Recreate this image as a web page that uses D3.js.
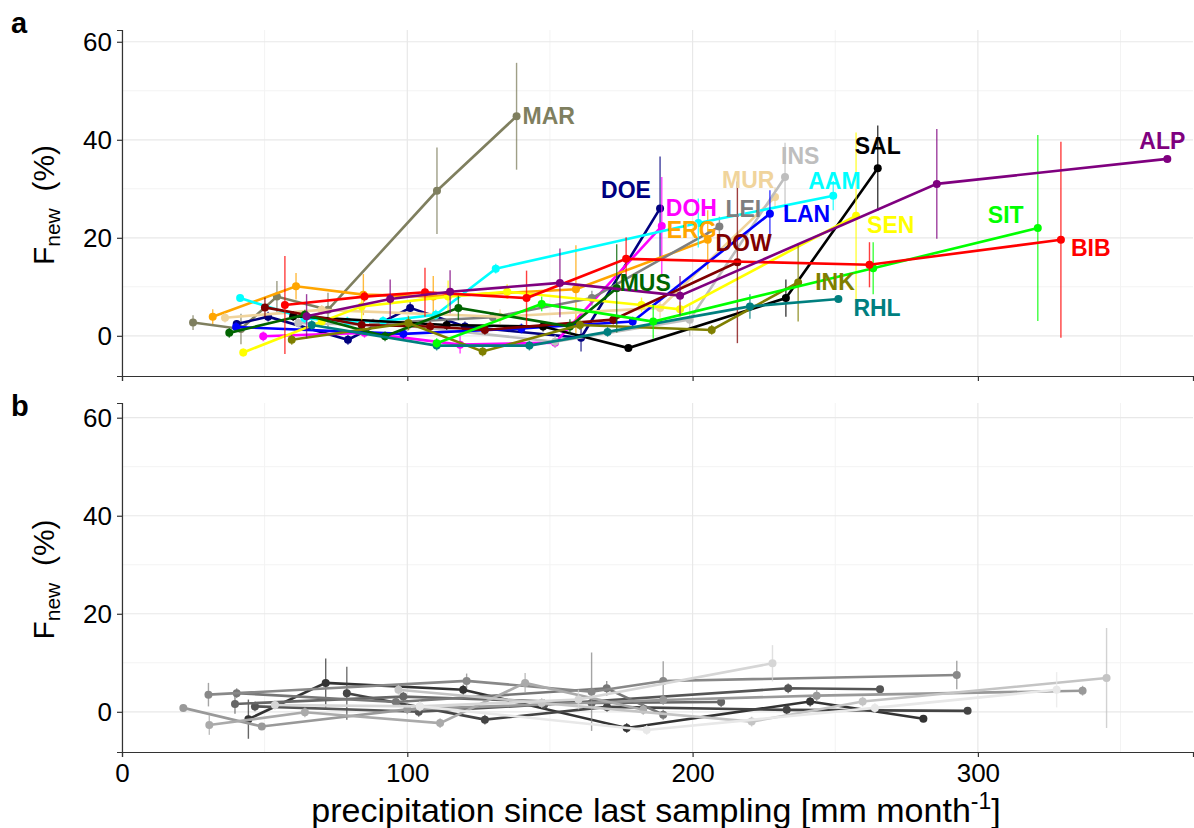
<!DOCTYPE html>
<html>
<head>
<meta charset="utf-8">
<script src="https://cdn.jsdelivr.net/npm/d3@7"></script>
<style>
  body { margin: 0; background: #fff; }
  svg text { font-family: "Liberation Sans", Arial, sans-serif; }
</style>
</head>
<body>
<div id="chart"></div>
<script>
// ---- data: each row = [precipitation (mm/month), Fnew (%), sd] ----
// panel a (coloured sites)
const MAR = [[24.9, 2.7, 1.5], [41.7, 1.4, 3.1], [54.3, 8.0, 3.2], [72.2, 5.3, 3.5], [110.4, 29.6, 8.8], [138.3, 44.8, 10.9]];
const DOE = [[40.2, 2.4, 0.8], [51.2, 3.9, 1.0], [79.2, -0.8, 1.0], [101.0, 5.7, 1.2], [120.2, 1.9, 1.0], [160.9, -0.4, 2.8], [188.6, 26.0, 10.6]];
const DOH = [[49.5, -0.1, 1.0], [85.0, 0.6, 1.0], [118.5, -1.8, 1.8], [151.8, -1.4, 1.0], [189.2, 22.4, 10.0]];
const ERG = [[31.8, 3.9, 1.5], [61.0, 10.1, 2.7], [84.6, 8.4, 4.2], [109.1, 8.0, 4.2], [159.1, 9.5, 9.0], [205.3, 19.6, 6.0]];
const LEI = [[88.0, 2.5, 1.0], [130.0, 3.8, 1.0], [164.7, 7.7, 1.5], [209.4, 22.3, 2.0]];
const MUR = [[36.1, 3.7, 1.0], [70.0, 5.3, 1.0], [132.5, 3.9, 1.5], [188.6, 5.7, 2.0], [228.9, 28.3, 2.0]];
const INS = [[61.8, 2.6, 1.0], [100.0, 2.0, 1.0], [151.8, -1.2, 1.3], [199.0, 3.3, 3.4], [232.4, 32.4, 7.0]];
const AAM = [[41.4, 7.7, 0.8], [64.0, 3.6, 1.0], [79.0, 2.9, 1.0], [91.5, 3.0, 1.0], [110.0, 4.3, 1.0], [131.0, 13.7, 1.0], [202.0, 23.0, 5.0], [249.3, 28.6, 3.0]];
const LAN = [[40.0, 1.8, 1.0], [98.6, 0.4, 1.0], [140.0, 1.5, 1.0], [179.0, 2.9, 1.0], [227.1, 24.9, 4.8]];
const SAL = [[60.0, 4.0, 1.0], [113.8, 2.2, 1.0], [147.6, 1.9, 1.0], [177.5, -2.5, 0.5], [232.7, 7.7, 3.8], [264.9, 34.2, 8.7]];
const SEN = [[42.5, -3.4, 0.8], [70.0, 2.9, 1.0], [84.0, 6.0, 2.7], [114.3, 8.0, 3.3], [135.0, 9.0, 1.5], [182.1, 6.3, 1.5], [195.6, 5.4, 1.5], [257.3, 24.5, 17.0]];
const DOW = [[50.1, 5.8, 2.0], [84.0, 2.2, 1.0], [108.0, 1.9, 1.0], [127.2, 1.2, 1.0], [172.2, 3.3, 1.0], [215.7, 15.0, 16.5]];
const MUS = [[37.6, 0.6, 1.0], [64.1, 4.3, 1.0], [92.2, -0.1, 1.0], [117.9, 5.7, 2.5], [157.0, 1.9, 1.5], [173.4, 9.7, 9.0]];
const INK = [[59.5, -0.8, 1.0], [100.4, 2.6, 1.5], [126.4, -3.2, 1.0], [160.5, 2.2, 1.0], [206.7, 1.2, 1.0], [237.0, 10.9, 8.0]];
const RHL = [[66.5, 2.2, 1.0], [110.3, -2.0, 1.0], [142.8, -2.0, 1.0], [170.2, 0.8, 1.0], [220.1, 6.0, 2.5], [251.1, 7.5, 0.5]];
const SIT = [[110.3, -1.5, 1.0], [147.1, 6.5, 1.5], [186.2, 2.9, 3.5], [263.3, 13.8, 5.3], [321.0, 22.0, 19.0]];
const BIB = [[57.1, 6.3, 10.0], [85.0, 8.0, 1.0], [106.2, 8.9, 5.0], [141.8, 7.7, 5.6], [176.7, 15.7, 4.4], [262.0, 14.5, 4.6], [329.1, 19.6, 20.0]];
const ALP = [[64.7, 4.0, 4.5], [94.0, 7.5, 4.0], [115.0, 9.0, 4.4], [153.5, 10.8, 7.0], [195.6, 8.2, 4.0], [285.6, 31.0, 11.2], [366.4, 36.1, 0.5]];

// panel b (grey series)
const b01 = [[44.3, -1.5, 4.0], [71.4, 5.9, 5.0], [119.6, 4.5, 1.0], [176.9, -3.3, 1.0], [241.2, 2.1, 1.0], [280.9, -1.4, 0.5]];
const b02 = [[78.8, 3.8, 5.4], [127.2, -1.6, 1.0], [170.0, 1.0, 1.0], [233.0, 0.4, 1.0], [296.4, 0.2, 0.5]];
const b03 = [[46.6, 1.1, 1.0], [104.0, 0.0, 1.0], [148.0, 1.5, 1.0], [233.5, 4.8, 1.0], [265.7, 4.6, 0.5]];
const b04 = [[39.6, 1.6, 2.0], [98.6, 3.1, 1.0], [164.6, 1.8, 1.0], [210.0, 2.0, 1.0]];
const b05 = [[40.2, 3.8, 1.0], [96.0, 2.0, 1.0], [169.9, 4.8, 1.5], [189.7, -0.6, 1.0]];
const b06 = [[30.3, 3.5, 2.4], [120.8, 6.3, 1.5], [164.6, 4.1, 8.0], [189.7, 6.3, 4.0], [292.6, 7.5, 2.9]];
const b07 = [[21.5, 0.8, 0.3], [49.0, -3.0, 0.5], [100.0, 0.5, 1.0], [189.7, 2.4, 1.0], [243.5, 3.3, 1.2], [336.7, 4.3, 1.0]];
const b08 = [[30.6, -2.7, 2.0], [64.1, -0.1, 1.0], [111.5, -2.3, 1.0], [141.3, 5.9, 2.0], [182.7, 0.4, 1.0]];
const b09 = [[96.9, 4.5, 1.0], [147.1, 1.8, 1.0], [220.7, -2.0, 1.0], [259.6, 2.1, 1.0], [345.1, 6.9, 10.2]];
const b10 = [[53.6, 1.4, 1.0], [104.4, 1.1, 1.0], [160.0, 2.5, 2.0], [228.0, 9.9, 3.7]];
const b11 = [[104.4, 1.1, 1.0], [183.9, -3.7, 1.0], [263.9, 0.8, 1.0], [327.6, 4.5, 3.6]];

const yTicks = [0, 20, 40, 60];
const xTicks = [0, 100, 200, 300];

// ---- styles ----
const siteColor = {
  MAR: "#7f7f5f", DOE: "#00007f", DOH: "#ff00ff", ERG: "#ffa500", LEI: "#7f7f7f",
  MUR: "#f0d49c", INS: "#bebebe", AAM: "#00ffff", LAN: "#0000ff", SAL: "#000000",
  SEN: "#ffff00", DOW: "#7f0000", MUS: "#006400", INK: "#7f7f00", RHL: "#007f7f",
  SIT: "#00ff00", BIB: "#ff0000", ALP: "#7f007f"
};
// label nudges (px) from the last point of each site
const labelNudge = {
  MAR: [6, 0], DOE: [-59, -18], DOH: [4, -18], ERG: [-41, -10], LEI: [6, -18],
  MUR: [-53, -17], INS: [-4, -21], AAM: [-25, -15], LAN: [13, 0], SAL: [-23, -22],
  SEN: [11, 9], DOW: [-22, -19], MUS: [3, -5], INK: [17, 0], RHL: [15, 9],
  SIT: [-50, -13], BIB: [10, 8], ALP: [-28, -18]
};
const greys = ["#333333", "#444444", "#555555", "#666666", "#777777", "#888888",
               "#999999", "#aaaaaa", "#c4c4c4", "#d6d6d6", "#e8e8e8"];

const sitesA = { MAR, DOE, DOH, ERG, LEI, MUR, INS, AAM, LAN, SAL, SEN, DOW, MUS, INK, RHL, SIT, BIB, ALP };
const seriesB = [b01, b02, b03, b04, b05, b06, b07, b08, b09, b10, b11];

const width = 1194, height = 828;
const svg = d3.select("#chart").append("svg")
  .attr("width", width).attr("height", height);

const x = d3.scaleLinear().domain([0, 375.4]).range([122, 1193]);
const yA = d3.scaleLinear().domain([-8.2, 62.4]).range([376, 30]);
const yB = d3.scaleLinear().domain([-8.2, 63.0]).range([752, 403]);

function panel(y, top, bottom, letter, letterY, showXLabels) {
  const g = svg.append("g");
  // minor grid
  [50, 150, 250, 350].forEach(v => g.append("line")
    .attr("x1", x(v)).attr("x2", x(v)).attr("y1", top).attr("y2", bottom)
    .attr("stroke", "#f3f3f3").attr("stroke-width", 1));
  [10, 30, 50].forEach(v => g.append("line")
    .attr("x1", 122).attr("x2", 1193).attr("y1", y(v)).attr("y2", y(v))
    .attr("stroke", "#f3f3f3").attr("stroke-width", 1));
  // major grid
  xTicks.forEach(v => g.append("line")
    .attr("x1", x(v)).attr("x2", x(v)).attr("y1", top).attr("y2", bottom)
    .attr("stroke", "#e8e8e8").attr("stroke-width", 1.2));
  yTicks.forEach(v => g.append("line")
    .attr("x1", 122).attr("x2", 1193).attr("y1", y(v)).attr("y2", y(v))
    .attr("stroke", "#e8e8e8").attr("stroke-width", 1.2));

  // axes
  const ax = g.append("g").attr("transform", `translate(0,${bottom})`)
    .call(d3.axisBottom(x).tickValues(xTicks).tickSize(5).tickFormat(showXLabels ? d3.format("d") : ""));
  const ay = g.append("g").attr("transform", "translate(122,0)")
    .call(d3.axisLeft(y).tickValues(yTicks).tickSize(5));
  [ax, ay].forEach(a => {
    a.select(".domain").attr("stroke", "#333").attr("stroke-width", 1.2);
    a.selectAll(".tick line").attr("stroke", "#333").attr("stroke-width", 1.2);
    a.selectAll(".tick text").attr("fill", "#000").style("font-size", "26px");
  });
  ax.selectAll(".tick text").attr("dy", "0.85em");
  ay.selectAll(".tick text").attr("dx", "-2px");

  // y title: F_new (%)
  const yt = g.append("text")
    .attr("transform", `translate(54,${(top + bottom) / 2 + 2}) rotate(-90)`)
    .attr("text-anchor", "middle")
    .style("font-size", "30px").attr("fill", "#000");
  yt.append("tspan").text("F");
  yt.append("tspan").text("new").attr("baseline-shift", "-28%").style("font-size", "21px");
  yt.append("tspan").text("\u00a0\u00a0(%)");

  svg.append("text").attr("x", 11).attr("y", letterY)
    .style("font-size", "29px").style("font-weight", "bold").text(letter);
  return g;
}

const line = y => d3.line().x(d => x(d[0])).y(d => y(d[1]));

function drawSeries(g, y, data, color) {
  const s = g.append("g");
  s.selectAll("line.err").data(data).join("line")
    .attr("x1", d => x(d[0])).attr("x2", d => x(d[0]))
    .attr("y1", d => y(d[1] - d[2])).attr("y2", d => y(d[1] + d[2]))
    .attr("stroke", color).attr("stroke-width", 1.4).attr("opacity", 0.75);
  s.append("path").datum(data)
    .attr("fill", "none").attr("stroke", color).attr("stroke-width", 2.6)
    .attr("d", line(y));
  s.selectAll("circle").data(data).join("circle")
    .attr("cx", d => x(d[0])).attr("cy", d => y(d[1])).attr("r", 4)
    .attr("fill", color);
}

const gA = panel(yA, 30, 376, "a", 33, false);
const gB = panel(yB, 403, 752, "b", 416, true);

Object.entries(sitesA).forEach(([name, data]) => drawSeries(gA, yA, data, siteColor[name]));
Object.entries(sitesA).forEach(([name, data]) => {
  const last = data[data.length - 1];
  const [dx, dy] = labelNudge[name];
  gA.append("text")
    .attr("x", x(last[0]) + dx).attr("y", yA(last[1]) + dy)
    .attr("dy", "0.35em")
    .style("font-size", "23px").style("font-weight", "bold")
    .attr("fill", siteColor[name]).text(name);
});

seriesB.forEach((data, i) => drawSeries(gB, yB, data, greys[i]));

// x title
const xt = svg.append("text")
  .attr("x", 656).attr("y", 822).attr("text-anchor", "middle")
  .style("font-size", "34px").attr("fill", "#000");
xt.append("tspan").text("precipitation since last sampling [mm month");
xt.append("tspan").text("-1").attr("baseline-shift", "super").style("font-size", "23px");
xt.append("tspan").text("]");
</script>
</body>
</html>
